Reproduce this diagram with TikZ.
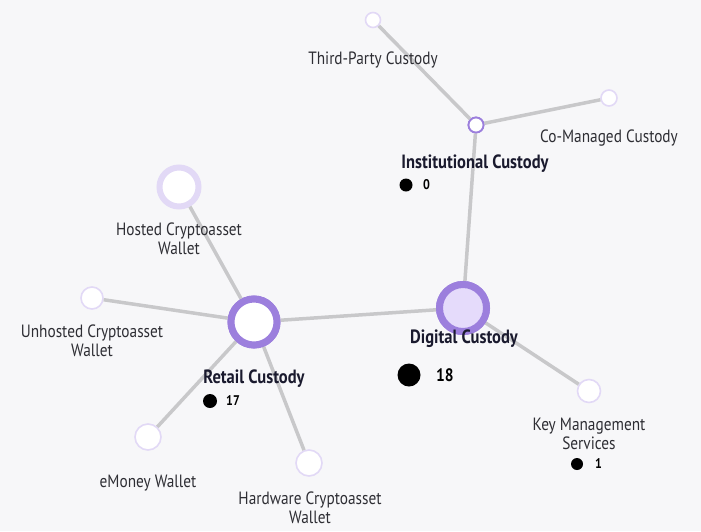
\documentclass[tikz,border=0pt]{standalone}
\usepackage{fontspec}
\setmainfont[FakeStretch=0.86]{PT Sans}
\begin{document}
\begin{tikzpicture}[x=1pt,y=-1pt,
  edge/.style={draw=edgegray,line width=3.5pt},
  hub/.style={circle,draw=hubpurple,inner sep=0pt},
  leaf/.style={circle,draw=leaflav,fill=white,line width=1.6pt,inner sep=0pt},
  lbl/.style={text=labelgray,font=\fontsize{17.8}{19.5}\selectfont,align=center,inner sep=0pt},
  blbl/.style={text=darknavy,font=\bfseries\fontsize{19.2}{21}\selectfont,inner sep=0pt},
  num/.style={text=black,font=\bfseries\fontsize{14}{16}\selectfont,inner sep=0pt,anchor=west},
  dot/.style={circle,fill=black,inner sep=0pt}]
\definecolor{bg}{HTML}{F7F7F9}
\definecolor{edgegray}{HTML}{C8C8CA}
\definecolor{hubpurple}{HTML}{9C7FDD}
\definecolor{leaflav}{HTML}{E2D9F6}
\definecolor{hublav}{HTML}{E5DBFB}
\definecolor{labelgray}{HTML}{2E2E34}
\definecolor{darknavy}{HTML}{1A1A2E}
\fill[bg] (0,0) rectangle (701,531);
\useasboundingbox (0,0) rectangle (701,531);
% nodes
\node[hub,fill=hublav,line width=7pt,minimum size=47pt] (dig) at (463,308) {};
\node[hub,fill=white,line width=7pt,minimum size=46pt] (ret) at (254,322) {};
\node[hub,fill=white,line width=1.8pt,minimum size=15pt] (inst) at (476,125) {};
\node[leaf,minimum size=15pt] (third) at (373,20) {};
\node[leaf,minimum size=16pt] (coman) at (609,98) {};
\node[circle,draw=leaflav,fill=white,line width=6pt,minimum size=39pt,inner sep=0pt] (hosted) at (179,187) {};
\node[leaf,minimum size=22pt] (unhost) at (92,298) {};
\node[leaf,minimum size=26pt] (emoney) at (148,437) {};
\node[leaf,minimum size=26pt] (hard) at (309,463) {};
\node[leaf,minimum size=23pt] (key) at (589,391) {};
% edges
\path (dig) edge[edge] (ret) (dig) edge[edge] (inst) (dig) edge[edge] (key)
  (inst) edge[edge] (third) (inst) edge[edge] (coman)
  (ret) edge[edge] (hosted) (ret) edge[edge] (unhost) (ret) edge[edge] (emoney) (ret) edge[edge] (hard);
% redraw hubs on top
\node[hub,fill=hublav,line width=7pt,minimum size=47pt] at (463,308) {};
\node[hub,fill=white,line width=7pt,minimum size=46pt] at (254,322) {};
\node[hub,fill=white,line width=1.8pt,minimum size=15pt] at (476,125) {};
% labels
\node[lbl] (l1) at (373,60) {Third-Party Custody};
\node[lbl] (l2) at (609,138) {Co-Managed Custody};
\node[blbl] (l3) at (475,164) {Institutional Custody};
\node[dot,minimum size=13pt] (d3) at (406,185) {};
\node[num] (n3) at (423,185) {0};
\node[lbl] (l4) at (179,239) {Hosted Cryptoasset\\Wallet};
\node[lbl] (l5) at (92,341) {Unhosted Cryptoasset\\Wallet};
\node[blbl] (l6) at (254,379) {Retail Custody};
\node[dot,minimum size=14pt] (d6) at (210,401) {};
\node[num] (n6) at (226,401) {17};
\node[blbl] (l7) at (464,339) {Digital Custody};
\node[dot,minimum size=23pt] (d7) at (409,375) {};
\node[num,font=\bfseries\fontsize{18}{20}\selectfont] (n7) at (436,375) {18};
\node[lbl] (l8) at (148,483) {eMoney Wallet};
\node[lbl] (l9) at (310,508) {Hardware Cryptoasset\\Wallet};
\node[lbl] (l10) at (589,434) {Key Management\\Services};
\node[dot,minimum size=12pt] (d10) at (577,464) {};
\node[num] (n10) at (595,464) {1};
\end{tikzpicture}
\end{document}
